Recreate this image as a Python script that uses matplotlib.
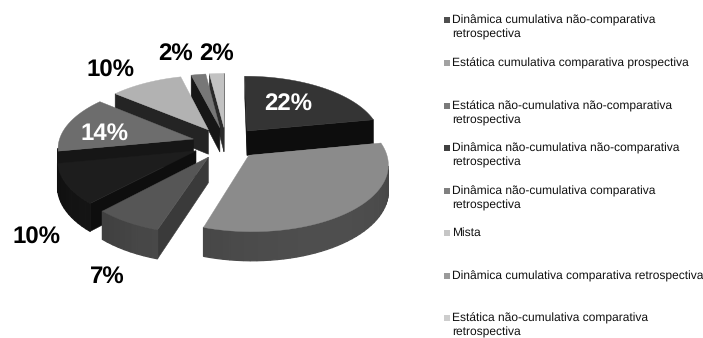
import numpy as np
import matplotlib
matplotlib.use("Agg")
import matplotlib.pyplot as plt
from matplotlib.patches import Polygon, Rectangle

plt.rcParams['font.family'] = ['Liberation Sans', 'DejaVu Sans']
plt.rcParams['text.hinting'] = 'none'
plt.rcParams['text.hinting_factor'] = 1

# Share of each category, clockwise from twelve o'clock
categories = [
    "Dinâmica cumulativa não-comparativa\nretrospectiva",
    "Estática cumulativa comparativa prospectiva",
    "Estática não-cumulativa não-comparativa\nretrospectiva",
    "Dinâmica não-cumulativa não-comparativa\nretrospectiva",
    "Dinâmica não-cumulativa comparativa\nretrospectiva",
    "Mista",
    "Dinâmica cumulativa comparativa retrospectiva",
    "Estática não-cumulativa comparativa\nretrospectiva",
]
values = [22, 33, 7, 10, 14, 10, 2, 2]
labels = ["22%", "", "7%", "10%", "14%", "10%", "2%", "2%"]

top_colors = ["#343434", "#8b8b8b", "#565656", "#1d1d1d", "#6d6d6d", "#b2b2b2", "#777777", "#c2c2c2"]
rim_colors = ["#222222", "#3c3c3c", "#3e3e3e", "#141414", "#1c1c1c", "#2a2a2a", "#1c1c1c", "#333333"]
cut_colors = ["#0d0d0d", "#333333", "#3a3a3a", "#0e0e0e", "#161616", "#242424", "#161616", "#2a2a2a"]
key_colors = ["#4f4f4f", "#a2a2a2", "#7a7a7a", "#404040", "#808080", "#c6c6c6", "#9a9a9a", "#cdcdcd"]

label_xy = [(288, 104), None, (107, 277), (36, 238), (105, 134), (110, 71), (176, 54), (217, 54)]
label_ink = ["white", None, "black", "black", "white", "black", "black", "black"]
key_rows = [20, 63, 106, 148, 191, 233, 276, 318]

CX, CY = 226.0, 143.0     # pie centre on the canvas, px
RX, RY = 135.0, 64.0      # plane radii, px
TILT = 0.12               # perspective strength along the depth axis
HEIGHT = 25.0             # extrusion, px
EXPLODE = 0.25


def project(x, y, z=0.0):
    """Map plane coordinates (y pointing away) and height to canvas pixels."""
    s = 1.0 / (1.0 + TILT * np.asarray(y, dtype=float))
    return CX + x * RX * s, CY - y * RY * s + z * HEIGHT * s


def shade(color, k):
    c = np.array(matplotlib.colors.to_rgb(color)) * k
    return tuple(np.clip(c, 0, 1))


def facing(px, py):
    # Canvas y runs downward, so a clockwise outline has positive area here
    return 0.5 * np.sum(px * np.roll(py, -1) - np.roll(px, -1) * py) > 0


fig = plt.figure(figsize=(7.03, 3.38), dpi=100)
ax = fig.add_axes([0, 0, 1, 1])
ax.set_xlim(0, 703)
ax.set_ylim(338, 0)
ax.axis("off")

edges = np.cumsum([0] + values) / sum(values) * 2 * np.pi
slices = []
for i in range(len(values)):
    a0, a1 = edges[i], edges[i + 1]
    mid = (a0 + a1) / 2
    ox, oy = EXPLODE * np.sin(mid), EXPLODE * np.cos(mid)
    slices.append((oy + 0.6 * np.cos(mid), i, a0, a1, ox, oy))

# Back slices first so the nearer ones paint over them
for _, i, a0, a1, ox, oy in sorted(slices, key=lambda s: -s[0]):
    t = np.linspace(a0, a1, max(6, int((a1 - a0) * 24)))
    rx, ry = ox + np.sin(t), oy + np.cos(t)

    # Flat cut faces
    for ang, sign in ((a0, 1), (a1, -1)):
        ex, ey = ox + np.sin(ang), oy + np.cos(ang)
        qx, qy = [], []
        for (u, v, w) in ((ox, oy, 0), (ex, ey, 0), (ex, ey, 1), (ox, oy, 1)):
            px, py = project(u, v, w)
            qx.append(px)
            qy.append(py)
        qx, qy = np.array(qx), np.array(qy)
        if facing(qx, qy) == (sign < 0):
            ax.add_patch(Polygon(np.c_[qx, qy], closed=True, fc=cut_colors[i], ec=cut_colors[i], lw=0.4))

    # Outer rim, broken into strips for a soft horizontal falloff
    for j in range(len(t) - 1):
        x0, y0 = project(rx[j], ry[j], 0)
        x1, y1 = project(rx[j + 1], ry[j + 1], 0)
        x2, y2 = project(rx[j + 1], ry[j + 1], 1)
        x3, y3 = project(rx[j], ry[j], 1)
        qx, qy = np.array([x0, x1, x2, x3]), np.array([y0, y1, y2, y3])
        if not facing(qx, qy):
            k = 0.9 + 0.4 * np.cos(t[j] - np.radians(150))
            col = shade(rim_colors[i], k)
            ax.add_patch(Polygon(np.c_[qx, qy], closed=True, fc=col, ec=col, lw=0.9))

    # Top face
    fx, fy = project(np.r_[ox, rx], np.r_[oy, ry], 0)
    ax.add_patch(Polygon(np.c_[fx, fy], closed=True, fc=top_colors[i], ec=top_colors[i], lw=0.3))

for text, xy, ink in zip(labels, label_xy, label_ink):
    if text:
        ax.text(xy[0], xy[1], text, color=ink, fontsize=17, fontweight="bold",
                ha="center", va="center")

for name, row, col in zip(categories, key_rows, key_colors):
    ax.add_patch(Rectangle((443.5, row - 3), 6, 6, fc=col, ec="none"))
    for n, line in enumerate(name.split("\n")):
        ax.text(452, row + n * 14.5, line, fontsize=8.35, color="#111111", ha="left", va="center")

fig.savefig("out.png", dpi=100)
